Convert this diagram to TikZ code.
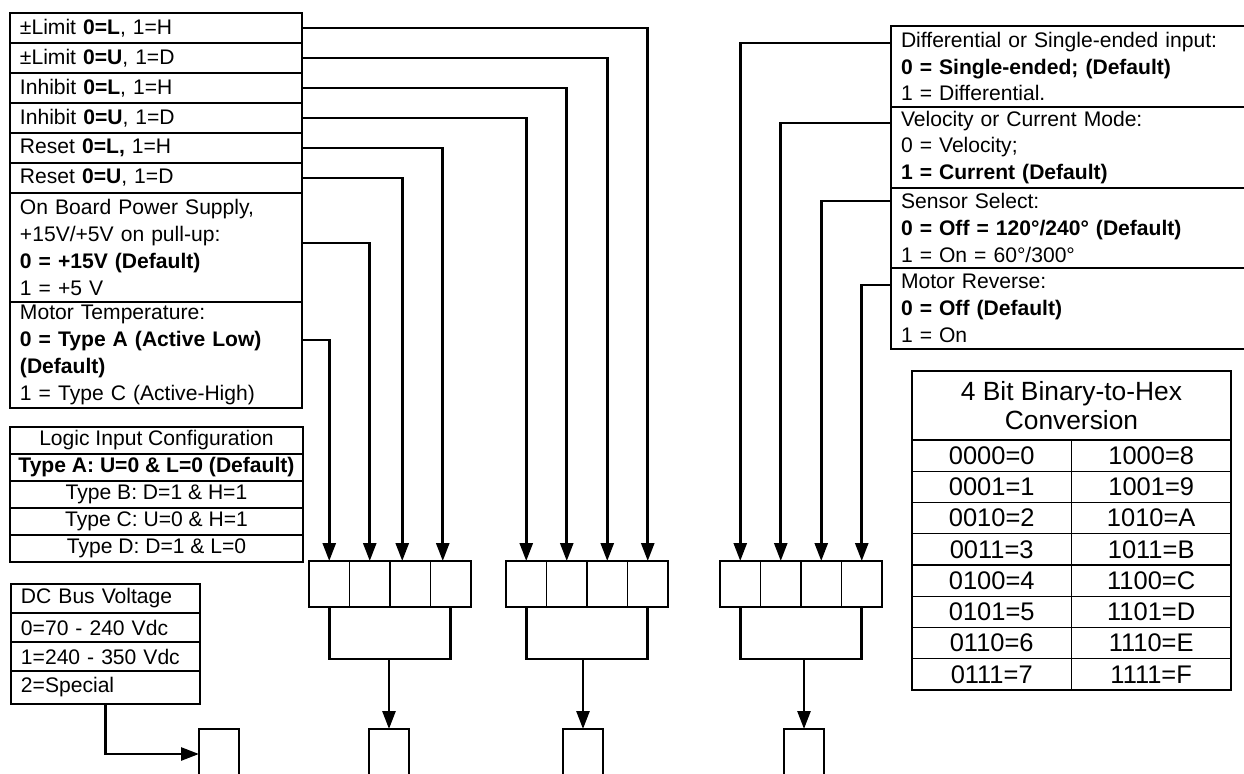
\documentclass[tikz,border=0pt]{standalone}
\usepackage{fontspec}
\setmainfont{Liberation Sans}
\usetikzlibrary{arrows.meta,positioning}

\tikzset{
  lbox/.style={draw,line width=0.8pt,outer sep=0pt,inner xsep=0.2cm,inner ysep=0pt,
    anchor=north west,align=left,text width=#1,font=\fontsize{12}{15.3}\selectfont},
  cfgbox/.style={draw,line width=0.8pt,outer sep=0pt,inner sep=0pt,anchor=north west,
    minimum width=5.86cm,minimum height=0.54cm,align=center,font=\fontsize{12}{14}\selectfont},
  cell/.style={draw,line width=0.8pt,outer sep=0pt,inner sep=0pt,anchor=north west,
    minimum width=0.81cm,minimum height=0.92cm},
  obox/.style={cell,minimum width=0.8cm,minimum height=1cm},
  hexcell/.style={draw,line width=0.8pt,outer sep=0pt,inner sep=0pt,anchor=north west,
    minimum width=3.19cm,minimum height=0.625cm,font=\fontsize{14.5}{16.5}\selectfont},
  wire/.style={line width=1.5pt,line join=miter},
  arr/.style={wire,-{Triangle[length=0.36cm,width=0.26cm]}}
}

\begin{document}
\begin{tikzpicture}[x=0.02cm,y=-0.02cm]
  \useasboundingbox (0,0) rectangle (1244,774);
  % left settings
  \node[lbox=5.44cm,minimum height=0.6cm] (lim1) at (10,13) {±Limit \textbf{0=L}, 1=H};
  \node[lbox=5.44cm,minimum height=0.6cm,below=0pt of lim1] (lim2) {±Limit \textbf{0=U}, 1=D};
  \node[lbox=5.44cm,minimum height=0.6cm,below=0pt of lim2] (inh1) {Inhibit \textbf{0=L}, 1=H};
  \node[lbox=5.44cm,minimum height=0.6cm,below=0pt of inh1] (inh2) {Inhibit \textbf{0=U}, 1=D};
  \node[lbox=5.44cm,minimum height=0.6cm,below=0pt of inh2] (rst1) {Reset \textbf{0=L,} 1=H};
  \node[lbox=5.44cm,minimum height=0.6cm,below=0pt of rst1] (rst2) {Reset \textbf{0=U}, 1=D};
  \node[lbox=5.44cm,minimum height=2.18cm,below=0pt of rst2] (pwr) {On Board Power Supply,\\+15V/+5V on pull-up:\\\textbf{0 = +15V (Default)}\\1 = +5 V};
  \node[lbox=5.44cm,minimum height=2.12cm,below=0pt of pwr] (mtemp) {Motor Temperature:\\\textbf{0 = Type A (Active Low)}\\\textbf{(Default)}\\1 = Type C (Active-High)};
  % right settings
  \node[lbox=7.2cm,minimum height=1.62cm] (diff) at (891,26) {Differential or Single-ended input:\\\textbf{0 = Single-ended; (Default)}\\1 = Differential.};
  \node[lbox=7.2cm,minimum height=1.62cm,below=0pt of diff] (vel) {Velocity or Current Mode:\\0 = Velocity;\\\textbf{1 = Current (Default)}};
  \node[lbox=7.2cm,minimum height=1.6cm,below=0pt of vel] (sens) {Sensor Select:\\\textbf{0 = Off = 120°/240° (Default)}\\1 = On = 60°/300°};
  \node[lbox=7.2cm,minimum height=1.62cm,below=0pt of sens] (mrev) {Motor Reverse:\\\textbf{0 = Off (Default)}\\1 = On};
  % logic input table
  \node[cfgbox] (cfg0) at (10,427) {Logic Input Configuration};
  \node[cfgbox,below=0pt of cfg0] (cfg1) {\textbf{Type A: U=0 \& L=0 (Default)}};
  \node[cfgbox,below=0pt of cfg1] (cfg2) {Type B: D=1 \& H=1};
  \node[cfgbox,below=0pt of cfg2] (cfg3) {Type C: U=0 \& H=1};
  \node[cfgbox,below=0pt of cfg3] (cfg4) {Type D: D=1 \& L=0};
  % dc bus
  \node[lbox=3.38cm,minimum height=0.58cm] (dc0) at (11,584) {DC Bus Voltage};
  \node[lbox=3.38cm,minimum height=0.58cm,below=0pt of dc0] (dc1) {0=70 - 240 Vdc};
  \node[lbox=3.38cm,minimum height=0.58cm,below=0pt of dc1] (dc2) {1=240 - 350 Vdc};
  \node[lbox=3.38cm,minimum height=0.66cm,below=0pt of dc2] (dc3) {2=Special};
  % hex table
  \node[hexcell,minimum width=6.38cm,minimum height=1.38cm,align=center,font=\fontsize{15}{16.5}\selectfont] (hx) at (912,371) {4 Bit Binary-to-Hex\\Conversion};
  \foreach \lft/\rgt [count=\i from 0] in {0000=0/1000=8,0001=1/1001=9,0010=2/1010=A,0011=3/1011=B,
      0100=4/1100=C,0101=5/1101=D,0110=6/1110=E,0111=7/1111=F}{
    \node[hexcell] (hl\i) at (912,{440+31.25*\i}) {\lft};
    \node[hexcell,right=0pt of hl\i] (hr\i) {\rgt};}
  % switch cells and outputs
  \foreach \g/\x in {1/309,2/506,3/720}{\foreach \k in {1,...,4}{\node[cell] (c\g\k) at ({\x+40.5*(\k-1)},561) {};}}
  \node[obox] (o0) at (199,729) {};\node[obox] (o1) at (369,729) {};
  \node[obox] (o2) at (563,729) {};\node[obox] (o3) at (784,729) {};
  \foreach \g in {1,2,3}{\draw[wire] (c\g1.south) -- ++(0,52) coordinate (j\g) -| (c\g4.south);
    \draw[arr] (o\g.north|-j\g) -- (o\g.north);}
  \draw[arr] (dc3.south) |- (o0.west);
  % connectors
  \draw[arr] (lim1.east) -| (c24.north);\draw[arr] (lim2.east) -| (c23.north);
  \draw[arr] (inh1.east) -| (c22.north);\draw[arr] (inh2.east) -| (c21.north);
  \draw[arr] (rst1.east) -| ([xshift=-0.16cm]c14.north);\draw[arr] (rst2.east) -| ([xshift=-0.16cm]c13.north);
  \draw[arr] ([yshift=0.09cm]pwr.east) -| (c12.north);\draw[arr] ([yshift=0.3cm]mtemp.east) -| (c11.north);
  \draw[arr] ([yshift=-0.34cm]diff.north west) -| (c31.north);\draw[arr] ([yshift=-0.32cm]vel.north west) -| (c32.north);
  \draw[arr] ([yshift=-0.26cm]sens.north west) -| (c33.north);\draw[arr] ([yshift=-0.34cm]mrev.north west) -| (c34.north);
\end{tikzpicture}
\end{document}
